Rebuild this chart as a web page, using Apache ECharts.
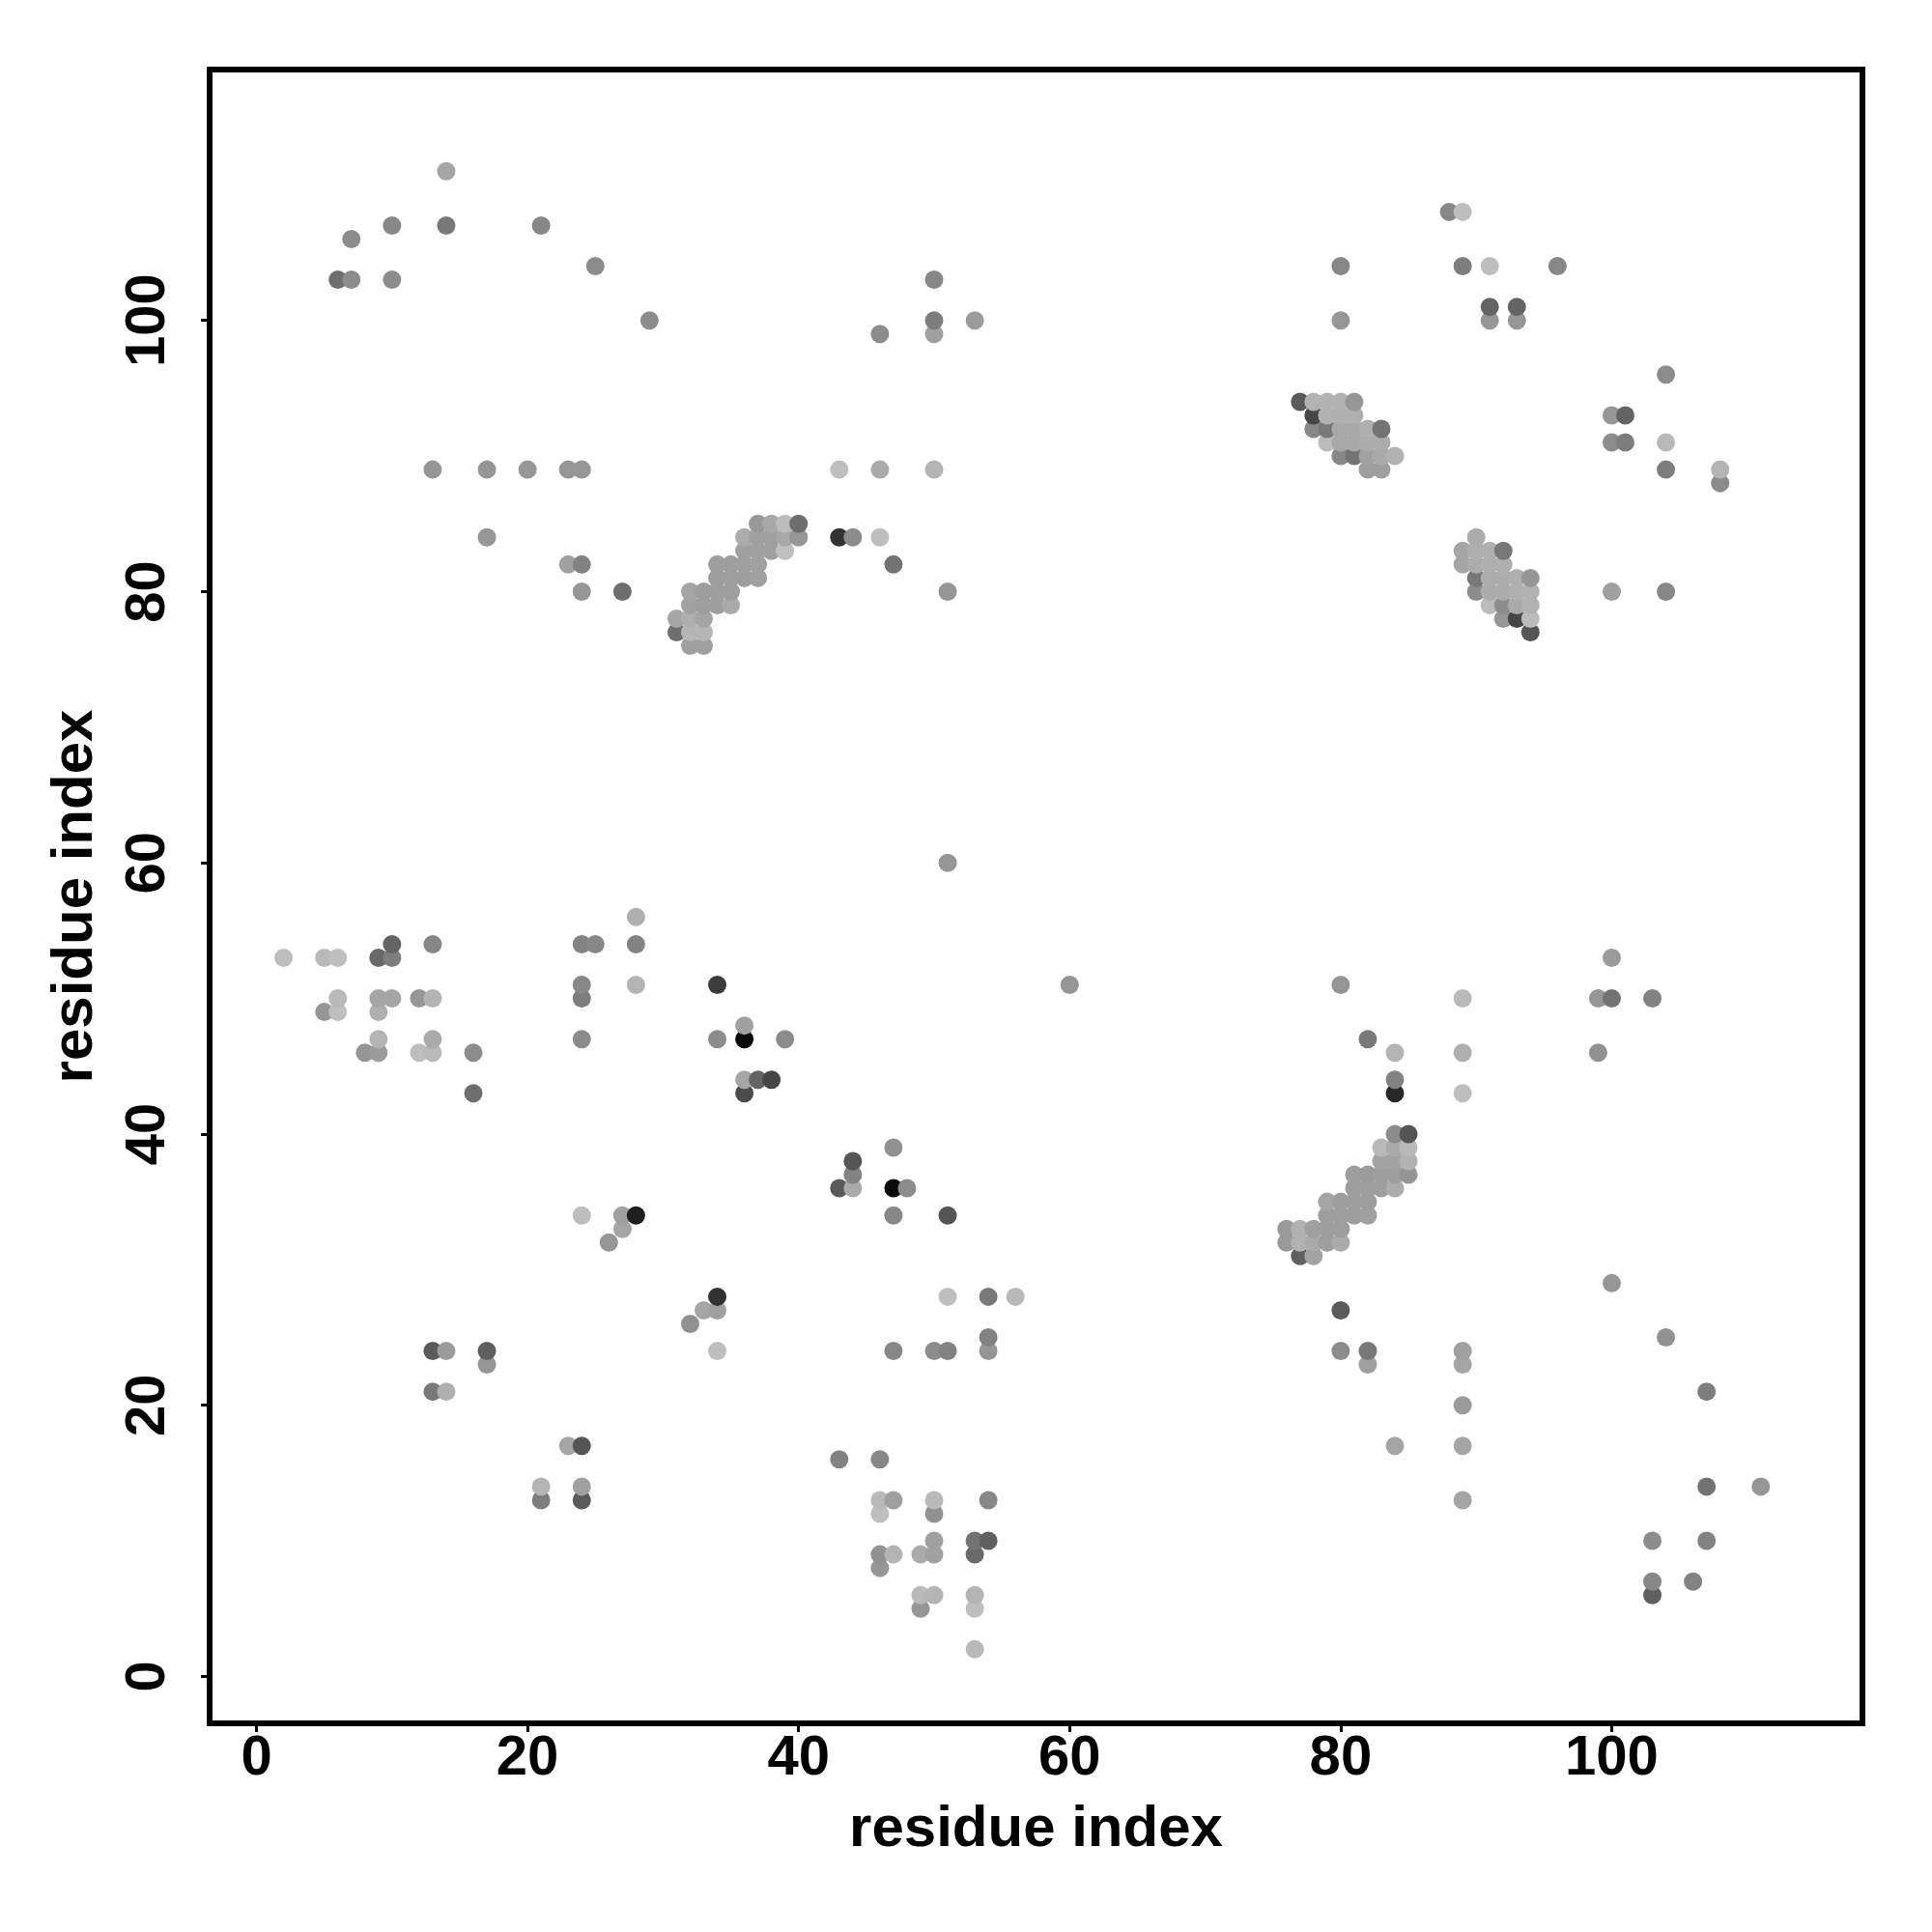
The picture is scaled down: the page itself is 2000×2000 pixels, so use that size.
<!DOCTYPE html>
<html>
<head>
<meta charset="utf-8">
<style>html,body{margin:0;padding:0;background:#fff}#c{width:2000px;height:2000px}</style>
<script src="https://cdn.jsdelivr.net/npm/echarts@6/dist/echarts.min.js"></script>
</head>
<body>
<div id="c"></div>
<script>
// each point: [residue x, residue y, grey level]
const tickValues = [0, 20, 40, 60, 80, 100];
const axisName = 'residue index';

const topLeft = [[14,111,165],[7,106,140],[10,107,135],[14,107,120],[21,107,135],[25,104,140],[6,103,110],[7,103,140],[10,103,140],[29,100,140],
 [46,99,140],[50,103,135],[50,100,125],[50,99,160],[53,100,155]];
const topRight = [[80,104,135],[80,100,150],[88,108,135],[89,108,190],[89,104,125],[91,104,190],[96,104,135],[91,101,100],[93,101,100],[91,100,150],[93,100,150],
 [104,96,140],[100,93,150],[101,93,100],[100,91,140],[101,91,125],[104,91,185],[104,89,125],[108,89,180],[108,88,140],[100,80,160],[104,80,135]];
const row89 = [[13,89,150],[17,89,150],[20,89,150],[23,89,150],[24,89,150],[43,89,190],[46,89,170],[50,89,180],
 [17,84,150],[23,82,160],[24,82,130],[24,80,150],[27,80,110],[43,84,50],[44,84,140],[46,84,190],[47,82,115],[51,80,150]];
const clusterA = [[37,85,152],[38,85,168],[39,85,188],[40,85,110],
 [36,84,172],[37,84,160],[38,84,160],[39,84,168],[40,84,150],
 [36,83,160],[37,83,160],[38,83,160],[39,83,192],
 [34,82,158],[35,82,158],[36,82,160],[37,82,160],
 [34,81,158],[35,81,158],[36,81,158],[37,81,160],
 [32,80,165],[33,80,158],[34,80,158],[35,80,158],
 [32,79,162],[33,79,158],[34,79,158],[35,79,170],
 [31,78,165],[32,78,175],[33,78,165],
 [31,77,110],[32,77,182],[33,77,182],
 [32,76,160],[33,76,160]];
const clusterB = [[77,94,90],[78,94,178],[79,94,178],[80,94,178],[81,94,150],
 [78,93,70],[79,93,178],[80,93,175],[81,93,175],
 [78,92,135],[79,92,120],[80,92,168],[81,92,168],[82,92,175],[83,92,115],
 [79,91,188],[80,91,168],[81,91,168],[82,91,172],[83,91,172],
 [80,90,135],[81,90,115],[82,90,162],[83,90,170],[84,90,178],
 [82,89,158],[83,89,158]];
const clusterC = [[90,84,172],
 [89,83,165],[90,83,175],[91,83,175],[92,83,120],
 [89,82,165],[90,82,172],[91,82,175],[92,82,175],
 [90,81,120],[91,81,172],[92,81,172],[93,81,175],[94,81,150],
 [90,80,140],[91,80,172],[92,80,172],[93,80,175],[94,80,178],
 [91,79,188],[92,79,140],[93,79,170],[94,79,178],
 [92,78,150],[93,78,70],[94,78,188],
 [94,77,85]];
const clusterD = [[84,40,140],[85,40,85],
 [83,39,185],[84,39,170],[85,39,185],
 [83,38,162],[84,38,162],[85,38,178],
 [81,37,158],[82,37,155],[83,37,158],[84,37,158],[85,37,148],
 [81,36,158],[82,36,158],[83,36,158],[84,36,172],
 [79,35,165],[80,35,158],[81,35,158],[82,35,158],
 [79,34,158],[80,34,158],[81,34,158],[82,34,160],
 [76,33,155],[77,33,178],[78,33,160],[79,33,158],[80,33,158],
 [76,32,155],[77,32,178],[78,32,170],[79,32,158],[80,32,170],
 [77,31,95],[78,31,162]];
const midLeft = [[2,53,190],[5,53,185],[6,53,190],[9,53,105],[10,53,125],[10,54,100],[13,54,135],
 [6,50,185],[9,50,165],[10,50,165],[12,50,150],[13,50,180],
 [5,49,150],[6,49,190],[9,49,175],[9,47,180],[13,47,170],
 [8,46,150],[9,46,155],[12,46,190],[13,46,185],[16,46,140],[16,43,110],
 [24,54,130],[25,54,135],[28,56,175],[28,54,130],[28,51,180],[24,51,135],[24,50,125],[24,47,140]];
const midCentre = [[34,51,60],[36,48,160],[34,47,140],[36,47,10],[39,47,140],[36,44,165],[37,44,100],[38,44,70],[36,43,75],
 [51,60,150],[60,51,150],
 [43,36,90],[44,38,85],[44,37,130],[44,36,170],[47,39,145],[47,36,10],[48,36,140],[47,34,135],[51,34,85]];
const midRight = [[80,51,150],[82,47,120],[84,46,180],[84,44,130],[84,43,40],[89,50,185],[89,46,175],[89,43,190],
 [100,53,155],[99,50,150],[100,50,115],[103,50,130],[99,46,145]];
const lowLeft = [[24,34,190],[27,34,160],[28,34,30],[27,33,165],[26,32,150],
 [34,28,50],[34,27,160],[33,27,165],[32,26,145],[34,24,190],
 [13,24,90],[14,24,155],[17,24,95],[17,23,150],[13,21,120],[14,21,175],
 [23,17,165],[24,17,85],[21,14,180],[21,13,125],[24,14,160],[24,13,90]];
const lowCentre = [[51,28,190],[54,28,120],[56,28,185],[54,25,130],[54,24,150],[47,24,135],[50,24,140],[51,24,130],
 [43,16,130],[46,16,135],
 [46,13,185],[47,13,160],[50,13,185],[54,13,135],[46,12,190],[50,12,145],
 [50,10,160],[53,10,115],[54,10,95],
 [46,9,145],[47,9,180],[49,9,170],[50,9,160],[53,9,105],[46,8,150],
 [49,6,185],[50,6,180],[53,6,180],[49,5,150],[53,5,190],[53,2,185]];
const lowRight = [[80,27,90],[80,24,140],[82,24,120],[82,23,160],[89,24,160],[89,23,165],[89,20,155],[89,17,165],[89,13,165],[84,17,165],
 [100,29,150],[104,25,145],[107,21,125],[107,14,115],[111,14,150],[103,10,140],[107,10,130],[103,7,135],[106,7,130],[103,6,95]];

const points = [].concat(topLeft, topRight, row89, clusterA, clusterB, clusterC, clusterD,
  midLeft, midCentre, midRight, lowLeft, lowCentre, lowRight)
  .sort((a, b) => a[0] - b[0] || a[1] - b[1]);

const font = '"Liberation Sans", Arial, sans-serif';
function axis(extra) {
  return Object.assign({
    type: 'value', min: -3.46, max: 118.5,
    name: axisName, nameLocation: 'middle',
    nameTextStyle: { fontFamily: font, fontWeight: 'bold', fontSize: 60, color: '#000' },
    splitLine: { show: false },
    axisLine: { show: false, onZero: false },
    axisTick: { show: true, length: 9, lineStyle: { color: '#000', width: 3 }, customValues: tickValues },
    axisLabel: { show: true, customValues: tickValues, fontFamily: font, fontWeight: 'bold', fontSize: 58, color: '#000' }
  }, extra);
}
const xA = axis({ nameGap: 80 });
xA.axisLabel.margin = 8;
const yA = axis({ nameGap: 109 });
yA.axisLabel.rotate = 90;
yA.axisLabel.margin = 34;

const chart = echarts.init(document.getElementById('c'), null, { renderer: 'canvas', width: 2000, height: 2000 });
chart.setOption({
  animation: false,
  backgroundColor: '#fff',
  grid: { show: true, left: 217, right: 72, top: 72, bottom: 216, borderColor: '#000', borderWidth: 6, backgroundColor: 'transparent' },
  xAxis: xA,
  yAxis: yA,
  series: [{
    type: 'scatter',
    data: points,
    symbol: 'circle',
    symbolSize: 19,
    clip: false,
    itemStyle: { opacity: 1, color: p => { const g = p.value[2]; return 'rgb(' + g + ',' + g + ',' + g + ')'; } },
    emphasis: { disabled: true }
  }]
});
</script>
</body>
</html>
